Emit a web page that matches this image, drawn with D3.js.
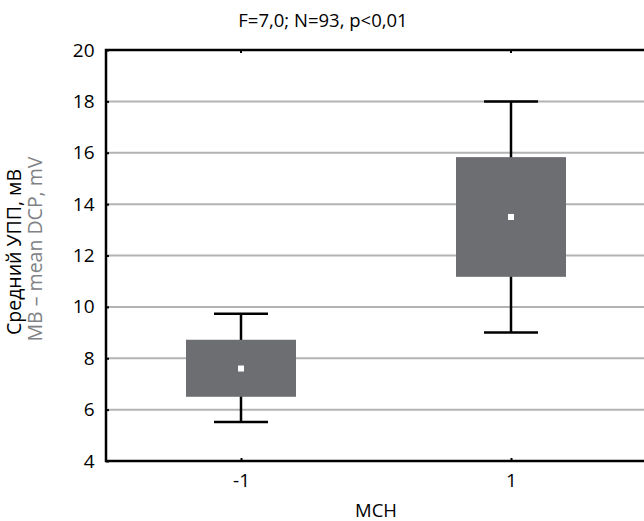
<!DOCTYPE html>
<html>
<head>
<meta charset="utf-8">
<script src="https://cdn.jsdelivr.net/npm/d3@7"></script>
<style>
  body { margin: 0; background: #fff; }
  svg text { font-family: "Open Sans", "Noto Sans", sans-serif; }
</style>
</head>
<body>
<div id="chart"></div>
<script>
// data
var groups = ["-1", "1"];
var means = [7.6, 13.5];
var boxLow = [6.5, 11.17];
var boxHigh = [8.72, 15.83];
var whiskLow = [5.52, 9.0];
var whiskHigh = [9.73, 18.0];
var yTicks = [4, 6, 8, 10, 12, 14, 16, 18, 20];

var width = 644, height = 521
	, margin = {top: 50, right: -2, bottom: 60, left: 106};

var svg = d3.select("#chart").append("svg")
	.attr("width", width)
	.attr("height", height);

var x = d3.scalePoint()
	.domain(groups)
	.range([margin.left, width - margin.right])
	.padding(0.5);

var y = d3.scaleLinear()
	.domain([4, 20])
	.range([height - margin.bottom, margin.top]);

var x0 = margin.left, x1 = width - margin.right
	, y0 = y(4), y1 = y(20);

// --- GRID --- \\
svg.append("g").selectAll("line")
	.data(yTicks.filter(function(d) { return d > 4 && d < 20; }))
	.enter().append("line")
	.attr("x1", x0).attr("x2", x1)
	.attr("y1", function(d) { return y(d); })
	.attr("y2", function(d) { return y(d); })
	.attr("stroke", "#b3b3b5")
	.attr("stroke-width", 2);

// --- AXES --- \\
var yAxis = svg.append("g")
	.attr("transform", "translate(" + x0 + ",0)")
	.call(d3.axisLeft(y).tickValues(yTicks).tickSize(-3).tickPadding(11.5));
yAxis.select(".domain").remove();
yAxis.selectAll("line").attr("stroke", "#000").attr("stroke-width", 2);
yAxis.selectAll("text").style("font-size", "19px").attr("fill", "#000");

var xAxis = svg.append("g")
	.attr("transform", "translate(0," + y0 + ")")
	.call(d3.axisBottom(x).tickSize(-3).tickPadding(12.5));
xAxis.select(".domain").remove();
xAxis.selectAll("line").attr("stroke", "#000").attr("stroke-width", 2);
xAxis.selectAll("text").style("font-size", "19px").attr("fill", "#000");

// top ticks
svg.append("g").selectAll("line")
	.data(groups)
	.enter().append("line")
	.attr("x1", function(d) { return x(d); })
	.attr("x2", function(d) { return x(d); })
	.attr("y1", y1).attr("y2", y1 + 3)
	.attr("stroke", "#000").attr("stroke-width", 2);

// frame
svg.append("rect")
	.attr("x", x0).attr("y", y1)
	.attr("width", x1 - x0).attr("height", y0 - y1)
	.attr("fill", "none")
	.attr("stroke", "#000")
	.attr("stroke-width", 2.5);

// --- BOXES --- \\
var boxW = 110, capW = 54;
var idx = d3.range(groups.length);
var box = svg.append("g").selectAll("g")
	.data(idx)
	.enter().append("g");

box.append("line")
	.attr("x1", function(i) { return x(groups[i]); })
	.attr("x2", function(i) { return x(groups[i]); })
	.attr("y1", function(i) { return y(whiskLow[i]); })
	.attr("y2", function(i) { return y(whiskHigh[i]); })
	.attr("stroke", "#000").attr("stroke-width", 2.5);

box.selectAll(".cap")
	.data(function(i) { return [[i, whiskLow[i]], [i, whiskHigh[i]]]; })
	.enter().append("line")
	.attr("class", "cap")
	.attr("x1", function(d) { return x(groups[d[0]]) - capW / 2; })
	.attr("x2", function(d) { return x(groups[d[0]]) + capW / 2; })
	.attr("y1", function(d) { return y(d[1]); })
	.attr("y2", function(d) { return y(d[1]); })
	.attr("stroke", "#000").attr("stroke-width", 2.5);

box.append("rect")
	.attr("x", function(i) { return x(groups[i]) - boxW / 2; })
	.attr("y", function(i) { return y(boxHigh[i]); })
	.attr("width", boxW)
	.attr("height", function(i) { return y(boxLow[i]) - y(boxHigh[i]); })
	.attr("fill", "#6d6e71");

box.append("rect")
	.attr("x", function(i) { return x(groups[i]) - 3; })
	.attr("y", function(i) { return y(means[i]) - 3; })
	.attr("width", 6).attr("height", 6)
	.attr("fill", "#fff");

// --- TEXTS --- \\
svg.append("text")
	.attr("x", 323).attr("y", 27)
	.attr("text-anchor", "middle")
	.style("font-size", "18.5px")
	.text("F=7,0; N=93, p<0,01");

svg.append("text")
	.attr("x", 376).attr("y", 517)
	.attr("text-anchor", "middle")
	.style("font-size", "18.5px")
	.text("MCH");

// y title, two lines
svg.append("text")
	.attr("transform", "translate(21,252) rotate(-90)")
	.attr("text-anchor", "middle")
	.style("font-size", "19.5px")
	.text("Средний УПП, мВ");
svg.append("text")
	.attr("transform", "translate(42,249) rotate(-90)")
	.attr("text-anchor", "middle")
	.style("font-size", "19.5px")
	.attr("fill", "#808285")
	.text("MB – mean DCP, mV");
</script>
</body>
</html>
